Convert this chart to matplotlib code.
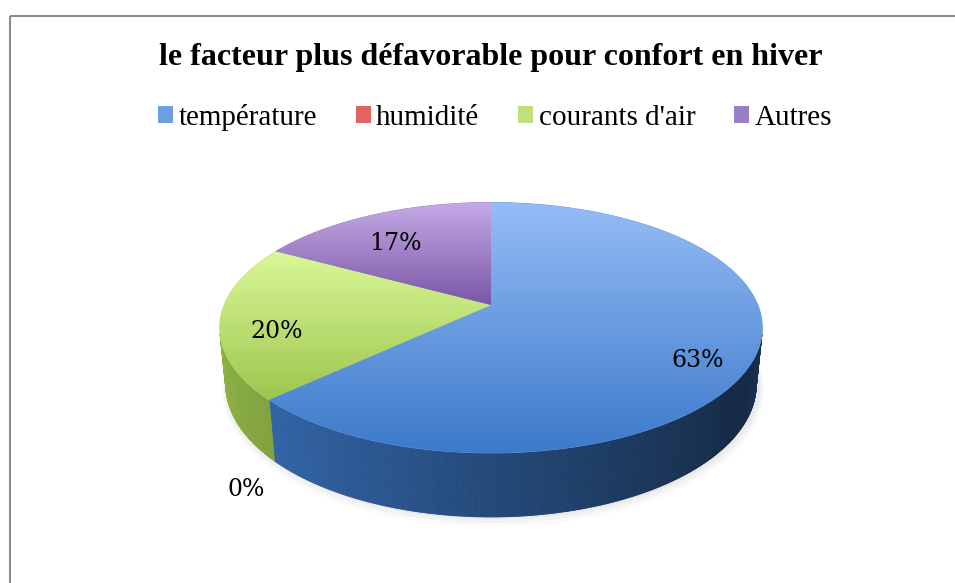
import numpy as np
import matplotlib.pyplot as plt
from matplotlib.patches import Polygon, Rectangle, Patch
from matplotlib.collections import PolyCollection

# data
labels = ['température', 'humidité', "courants d'air", 'Autres']
values = [63, 0, 20, 17]
pct_text = ['63%', '0%', '20%', '17%']

# colours: top of face, bottom of face, legend swatch
top_light = [(150, 188, 246), (246, 150, 150), (218, 248, 152), (198, 170, 230)]
top_dark = [(60, 122, 202), (200, 60, 60), (158, 198, 78), (122, 86, 166)]
swatch = ['#6d9fe3', '#e06464', '#bfe07a', '#9b7dc8']

# 3d projection set-up (pixel space)
CX, CY = 491, 305
phi = np.radians(27)
s, c = np.sin(phi), np.cos(phi)
D = 4.91
F = 1310
H = 0.24


def project(X, Y, Z):
    depth = c * Y + D - s * Z
    return CX + F * X / depth, CY - F * (s * Y + c * Z) / depth


fig = plt.figure(figsize=(9.55, 5.83), dpi=100)
ax = fig.add_axes([0, 0, 1, 1])

total = sum(values)
bounds = np.concatenate([[0], np.cumsum(values) / total * 360])

# soft shadow under the pie
for i, alpha in enumerate([0.035, 0.03, 0.02]):
    g = 1.0 + 0.008 * (i + 1)
    ang = np.radians(np.linspace(0, 360, 300))
    xs, ys = project(g * np.sin(ang), g * np.cos(ang), -H - 0.008 * i)
    ax.add_patch(Polygon(np.column_stack([xs + 2, ys + 1]), closed=True,
                         facecolor='black', edgecolor='none', alpha=alpha, zorder=0.5))

# side wall (only the part facing the viewer)
a_lo = np.degrees(np.arccos(-1 / (D * c)))
a_hi = 360 - a_lo
steps = np.linspace(a_lo, a_hi, 400)
quads, cols = [], []
for a0, a1 in zip(steps[:-1], steps[1:]):
    am = (a0 + a1) / 2
    k = np.searchsorted(bounds, am) - 1
    r0, r1 = np.radians(a0), np.radians(a1)
    p1 = project(np.sin(r0), np.cos(r0), 0)
    p2 = project(np.sin(r1), np.cos(r1), 0)
    p3 = project(np.sin(r1), np.cos(r1), -H)
    p4 = project(np.sin(r0), np.cos(r0), -H)
    quads.append([p1, p2, p3, p4])
    xv = np.sin(np.radians(am))
    shade = 0.6 - 0.3 * xv + 0.12 * max(0, xv - 0.85) / 0.15
    base = np.array(top_dark[k]) / 255
    cols.append(tuple(np.clip(base * shade, 0, 1)))
ax.add_collection(PolyCollection(quads, facecolors=cols, edgecolors=cols, linewidths=0.6, zorder=1))

# top faces with vertical gradient
for k, v in enumerate(values):
    if v == 0:
        continue
    ang = np.radians(np.linspace(bounds[k], bounds[k + 1], 200))
    xs, ys = project(np.sin(ang), np.cos(ang), 0)
    pts = np.vstack([[CX, CY], np.column_stack([xs, ys])])
    mid = tuple((np.array(top_light[k]) + np.array(top_dark[k])) / 510)
    ax.add_patch(Polygon(pts, closed=True, facecolor=mid, edgecolor=mid, lw=0.6, zorder=2))
    ymin, ymax = pts[:, 1].min(), pts[:, 1].max()
    grad = np.linspace(0, 1, 256)[:, None, None]
    img = (1 - grad) * np.array(top_light[k]) / 255 + grad * np.array(top_dark[k]) / 255
    clip = Polygon(pts, closed=True, transform=ax.transData, facecolor='none', edgecolor='none')
    ax.add_patch(clip)
    im = ax.imshow(img, extent=(pts[:, 0].min(), pts[:, 0].max(), ymax, ymin),
                   origin='upper', aspect='auto', interpolation='bilinear', zorder=3)
    im.set_clip_path(clip)

# data labels
for k, v in enumerate(values):
    am = np.radians((bounds[k] + bounds[k + 1]) / 2)
    if v == 0:
        lx, ly = project(1.12 * np.sin(am), 1.12 * np.cos(am), -0.3)
    else:
        lx, ly = project(0.8 * np.sin(am), 0.8 * np.cos(am), -0.06)
    ax.text(lx, ly, pct_text[k], ha='center', va='center', fontsize=17,
            family='DejaVu Serif', color='black', zorder=5)

# frame
ax.add_patch(Rectangle((10, 16), 960, 600, facecolor='none', edgecolor='#8c8c8c', lw=1.5, zorder=6))

ax.set_xlim(0, 955)
ax.set_ylim(583, 0)
ax.axis('off')

fig.text(491 / 955, 1 - 58 / 583, 'le facteur plus défavorable pour confort en hiver',
         ha='center', va='center', fontsize=23, fontweight='bold', family='Liberation Serif')

handles = [Patch(facecolor=col, edgecolor='none') for col in swatch]
fig.legend(handles, labels, loc='center', bbox_to_anchor=(495 / 955, 1 - 117 / 583), ncol=4,
           frameon=False, prop={'family': 'Liberation Serif', 'size': 21},
           handlelength=0.52, handleheight=0.52, handletextpad=0.18, columnspacing=1.33)

fig.savefig('out.png', dpi=100)
